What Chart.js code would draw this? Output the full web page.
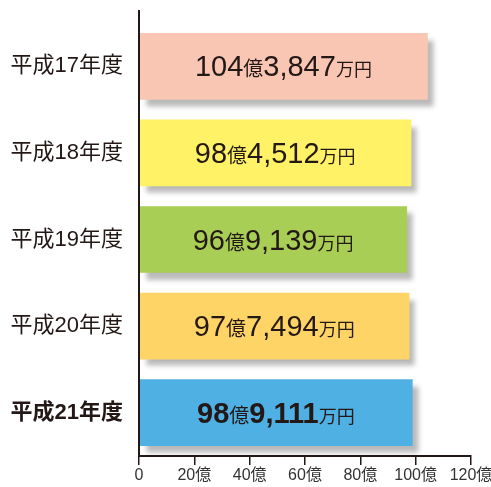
<!DOCTYPE html>
<html lang="ja">
<head>
  <meta charset="UTF-8">
  <title>年度別 金額</title>
  <script src="https://cdn.jsdelivr.net/npm/chart.js"></script>
  <style>
    html, body { margin: 0; padding: 0; background: #fff; }
    #wrap { width: 491px; height: 487px; }
  </style>
</head>
<body>
  <div id="wrap"><canvas id="chart"></canvas></div>

  <script>
    // データ
    const years = ['平成17年度', '平成18年度', '平成19年度', '平成20年度', '平成21年度'];
    const oku = [104, 98, 96, 97, 98];          // 億
    const man = ['3,847', '4,512', '9,139', '7,494', '9,111']; // 万円
    const values = [104.3847, 98.4512, 96.9139, 97.7494, 98.9111];
    const barColors = ['#F9C6B4', '#FFF266', '#A8CE55', '#FFD466', '#4FB0E3'];
    const xTicks = [0, 20, 40, 60, 80, 100, 120];

    const JP = '"Liberation Sans", "Noto Sans CJK JP", sans-serif';
    const INK = '#231815';

    // 棒の影
    const shadowPlugin = {
      id: 'barShadow',
      beforeDatasetsDraw(chart) {
        const ctx = chart.ctx;
        ctx.save();
        ctx.shadowColor = 'rgba(0,0,0,0.28)';
        ctx.shadowBlur = 5;
        ctx.shadowOffsetX = 6;
        ctx.shadowOffsetY = 7;
      },
      afterDatasetsDraw(chart) {
        chart.ctx.restore();
      }
    };

    // 棒の中の金額ラベル
    const labelPlugin = {
      id: 'barLabels',
      afterDatasetsDraw(chart) {
        const ctx = chart.ctx;
        const meta = chart.getDatasetMeta(0);
        meta.data.forEach((bar, i) => {
          const bold = i === years.length - 1;
          const parts = [
            { t: String(oku[i]), f: (bold ? '900 ' : '') + '29px ' + JP },
            { t: '億', f: '20px ' + JP },
            { t: man[i], f: (bold ? '900 ' : '') + '29px ' + JP },
            { t: '万円', f: '18px ' + JP }
          ];
          ctx.save();
          ctx.fillStyle = INK;
          ctx.textBaseline = 'alphabetic';
          let total = 0;
          parts.forEach(p => { ctx.font = p.f; p.w = ctx.measureText(p.t).width; total += p.w; });
          let x = (chart.chartArea.left + bar.x) / 2 - total / 2;
          const y = bar.y + 10;
          parts.forEach(p => {
            ctx.font = p.f;
            ctx.fillText(p.t, x, y);
            x += p.w;
          });
          ctx.restore();
        });
      }
    };

    // 縦軸の線を上に延ばす
    const axisPlugin = {
      id: 'axisExt',
      afterDraw(chart) {
        const ctx = chart.ctx;
        const a = chart.chartArea;
        ctx.save();
        ctx.strokeStyle = INK;
        ctx.lineWidth = 2;
        ctx.beginPath();
        ctx.moveTo(a.left, 10);
        ctx.lineTo(a.left, a.bottom);
        ctx.stroke();
        ctx.restore();
      }
    };

    new Chart(document.getElementById('chart'), {
      type: 'bar',
      data: {
        labels: years,
        datasets: [{
          data: values,
          backgroundColor: barColors,
          borderWidth: 0,
          categoryPercentage: 0.77,
          barPercentage: 1
        }]
      },
      options: {
        indexAxis: 'y',
        responsive: true,
        maintainAspectRatio: false,
        animation: false,
        layout: { padding: { top: 23, right: 20, left: 0, bottom: 0 } },
        plugins: { legend: { display: false }, tooltip: { enabled: false } },
        scales: {
          x: {
            min: 0, max: 120,
            afterBuildTicks(scale) { scale.ticks = xTicks.map(v => ({ value: v })); },
            afterFit(scale) {
              scale.height = 31;
              scale.paddingRight = 0;
              scale.paddingLeft = 0;
            },
            grid: { display: true, drawOnChartArea: false, drawTicks: true, tickLength: 9, color: INK, lineWidth: 1.5 },
            border: { display: true, color: INK, width: 2 },
            ticks: {
              padding: 1,
              maxRotation: 0,
              color: '#333',
              font: { family: JP, size: 16 },
              callback: v => v === 0 ? '0' : v + '億'
            }
          },
          y: {
            afterFit(scale) {
              scale.width = 139;
              scale.paddingTop = 0;
              scale.paddingBottom = 0;
            },
            grid: { display: false, drawTicks: false },
            border: { display: true, color: INK, width: 2 },
            ticks: {
              padding: 16,
              color: INK,
              font: ctx => ({ family: JP, size: 22, weight: ctx.index === years.length - 1 ? 'bold' : 'normal' })
            }
          }
        }
      },
      plugins: [shadowPlugin, labelPlugin, axisPlugin]
    });
  </script>
</body>
</html>
